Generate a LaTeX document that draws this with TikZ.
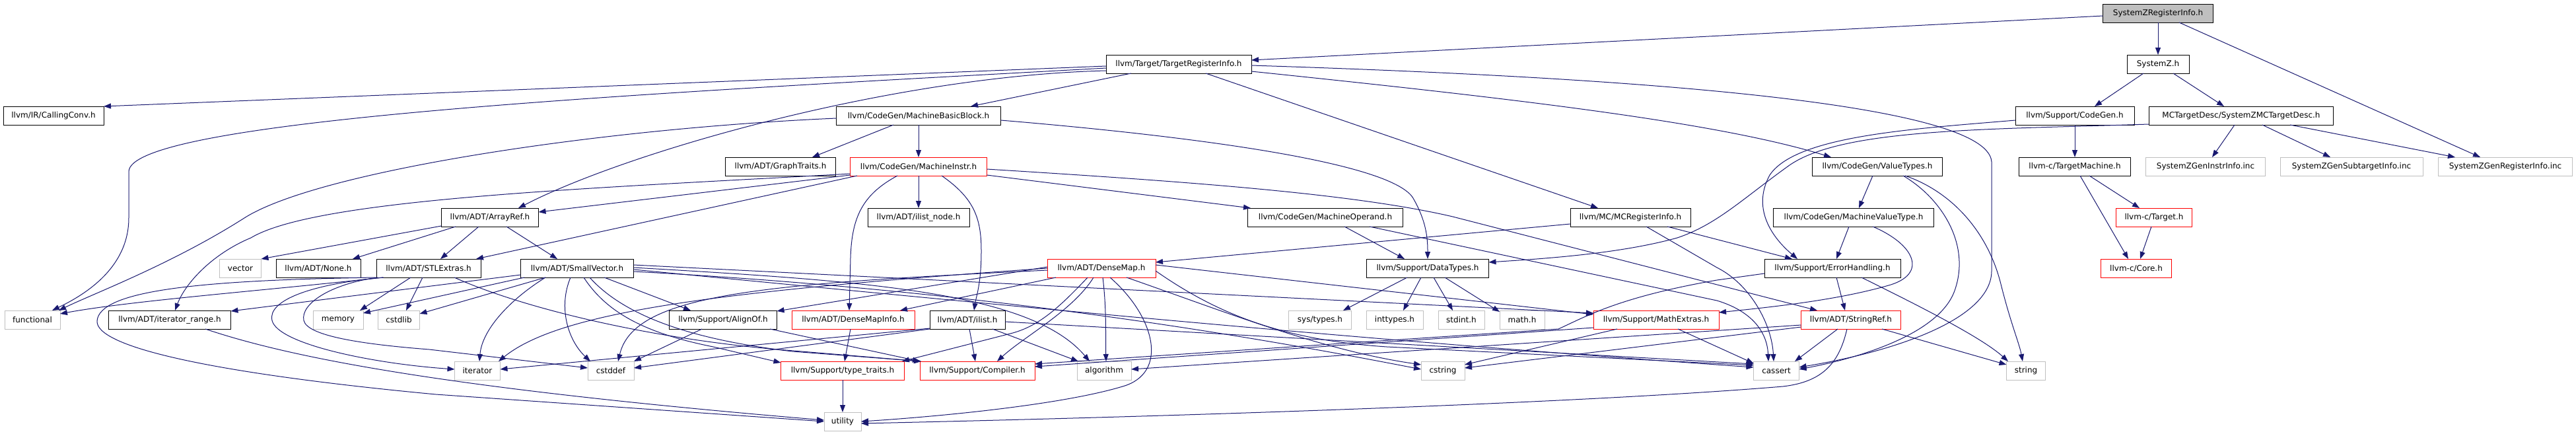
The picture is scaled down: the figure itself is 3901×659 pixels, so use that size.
\documentclass[tikz,border=0pt]{standalone}
\usepackage{fontspec}
\setmainfont{DejaVu Sans}
\usetikzlibrary{arrows.meta,calc}
\definecolor{edgeblue}{HTML}{191970}
\definecolor{graybd}{HTML}{BFBFBF}
\definecolor{rootfill}{HTML}{BFBFBF}
\definecolor{nodered}{HTML}{FF0000}
\begin{document}
\begin{tikzpicture}[x=1pt,y=-1pt,
  box/.style={draw=black, line width=1pt, minimum height=28pt, inner sep=0pt, outer sep=0pt, font=\fontsize{12}{14}\selectfont, anchor=center},
  nb/.style={box, minimum width=#1},
  nr/.style={nb=#1, draw=nodered},
  ng/.style={nb=#1, draw=graybd},
  root/.style={nb=#1, fill=rootfill},
  dep/.style={draw=edgeblue, line width=1pt, -{Triangle[length=11pt,width=8pt]}}]
\useasboundingbox (0,0) rectangle (3901,659);
% nodes
\node[root=167] (szri) at (3268,20) {SystemZRegisterInfo.h};
\node[nb=220] (tri) at (1785,97) {llvm/Target/TargetRegisterInfo.h};
\node[nb=94] (szh) at (3268,97) {SystemZ.h};
\node[nb=152] (cc) at (81,175) {llvm/IR/CallingConv.h};
\node[nb=249] (mbb) at (1391,175) {llvm/CodeGen/MachineBasicBlock.h};
\node[nb=180] (cg) at (3142,175) {llvm/Support/CodeGen.h};
\node[nb=279] (mctd) at (3394,175) {MCTargetDesc/SystemZMCTargetDesc.h};
\node[nb=167] (gt) at (1182,252) {llvm/ADT/GraphTraits.h};
\node[nr=207] (mi) at (1391,252) {llvm/CodeGen/MachineInstr.h};
\node[nb=197] (vt) at (2843,252) {llvm/CodeGen/ValueTypes.h};
\node[nb=169] (tm) at (3142,252) {llvm-c/TargetMachine.h};
\node[ng=181] (gii) at (3340,252) {SystemZGenInstrInfo.inc};
\node[ng=216] (gsi) at (3561,252) {SystemZGenSubtargetInfo.inc};
\node[ng=203] (gri) at (3794,252) {SystemZGenRegisterInfo.inc};
\node[nb=147] (ar) at (742,329) {llvm/ADT/ArrayRef.h};
\node[nb=154] (iln) at (1391,329) {llvm/ADT/ilist\_node.h};
\node[nb=235] (mo) at (2007,329) {llvm/CodeGen/MachineOperand.h};
\node[nb=182] (mcri) at (2469,329) {llvm/MC/MCRegisterInfo.h};
\node[nb=243] (mvt) at (2807,329) {llvm/CodeGen/MachineValueType.h};
\node[nr=115] (tg) at (3262,329) {llvm-c/Target.h};
\node[ng=63] (vec) at (364,406) {vector};
\node[nb=128] (none) at (482,406) {llvm/ADT/None.h};
\node[nb=158] (stl) at (649,406) {llvm/ADT/STLExtras.h};
\node[nb=171] (sv) at (874,406) {llvm/ADT/SmallVector.h};
\node[nr=164] (dm) at (1668,406) {llvm/ADT/DenseMap.h};
\node[nb=185] (dt) at (2162,406) {llvm/Support/DataTypes.h};
\node[nb=206] (eh) at (2775,406) {llvm/Support/ErrorHandling.h};
\node[nr=107] (core) at (3235,406) {llvm-c/Core.h};
\node[ng=84] (fun) at (49,484) {functional};
\node[nb=185] (itr) at (257,484) {llvm/ADT/iterator\_range.h};
\node[ng=76] (mem) at (512,484) {memory};
\node[ng=63] (cstdlib) at (604,484) {cstdlib};
\node[nb=163] (aof) at (1095,484) {llvm/Support/AlignOf.h};
\node[nr=186] (dmi) at (1292,484) {llvm/ADT/DenseMapInfo.h};
\node[nb=114] (il) at (1465,484) {llvm/ADT/ilist.h};
\node[ng=95] (syst) at (1999,484) {sys/types.h};
\node[ng=86] (intt) at (2112,484) {inttypes.h};
\node[ng=70] (stdi) at (2213,484) {stdint.h};
\node[ng=68] (mathh) at (2305,484) {math.h};
\node[nr=190] (me) at (2508,484) {llvm/Support/MathExtras.h};
\node[nr=151] (sr) at (2803,484) {llvm/ADT/StringRef.h};
\node[ng=69] (iter) at (723,561) {iterator};
\node[ng=70] (cstddef) at (925,561) {cstddef};
\node[nr=187] (tt) at (1276,561) {llvm/Support/type\_traits.h};
\node[nr=174] (comp) at (1480,561) {llvm/Support/Compiler.h};
\node[ng=82] (alg) at (1672,561) {algorithm};
\node[ng=66] (cstr) at (2185,561) {cstring};
\node[ng=69] (cass) at (2690,561) {cassert};
\node[ng=59] (str) at (3068,561) {string};
\node[ng=56] (util) at (1276,638) {utility};
% edges: top part
\draw[dep] ($(szri)+(0,14)$) -- ($(szh)+(0,-14)$);
\draw[dep] ($(szri)+(-83.5,4)$) -- ($(tri)+(110,-6)$);
\draw[dep] ($(szri)+(32,14)$) -- ($(gri)+(-38,-14)$);
\draw[dep] ($(szh)+(-22,14)$) -- ($(cg)+(30,-14)$);
\draw[dep] ($(szh)+(23,14)$) -- ($(mctd)+(-26,-14)$);
\draw[dep] ($(mctd)+(-10,14)$) -- ($(gii)+(10,-14)$);
\draw[dep] ($(mctd)+(32,14)$) -- ($(gsi)+(-32,-14)$);
\draw[dep] ($(mctd)+(74,14)$) -- ($(gri)+(-76,-14)$);
\draw[dep] ($(mctd)+(-139.5,13)$) .. controls (3000,196) and (2790,195) .. (2710,250) .. controls (2640,300) and (2600,340) .. (2540,360) .. controls (2450,385) and (2330,392) .. ($(dt)+(92.5,-9)$);
\draw[dep] ($(cg)+(-90,7)$) .. controls (2900,195) and (2720,205) .. (2680,265) .. controls (2650,320) and (2690,365) .. ($(eh)+(-53,-14)$);
\draw[dep] ($(cg)+(0,14)$) -- ($(tm)+(0,-14)$);
\draw[dep] ($(tm)+(22,14)$) -- ($(tg)+(-22,-14)$);
\draw[dep] ($(tm)+(8,14)$) -- ($(core)+(-12,-14)$);
\draw[dep] ($(tg)+(-4,14)$) -- ($(core)+(6,-14)$);
% TargetRegisterInfo
\draw[dep] ($(tri)+(-110,3)$) -- ($(cc)+(76,-14)$);
\draw[dep] ($(tri)+(-110,6)$) .. controls (1000,140) and (195,180) .. (195,260) -- (195,330) .. controls (195,410) and (120,450) .. ($(fun)+(30,-14)$);
\draw[dep] ($(tri)+(-72,14)$) -- ($(mbb)+(79,-14)$);
\draw[dep] ($(tri)+(-110,10)$) .. controls (1350,115) and (950,230) .. ($(ar)+(43,-14)$);
\draw[dep] ($(tri)+(110,11)$) .. controls (2300,150) and (2600,185) .. ($(vt)+(-70,-14)$);
\draw[dep] ($(tri)+(41,14)$) -- ($(mcri)+(-49,-14)$);
\draw[dep] ($(tri)+(110,2)$) .. controls (2400,115) and (3010,150) .. (3016,245) -- (3016,410) .. controls (3016,480) and (2880,530) .. ($(cass)+(34.5,-5)$);
% MachineBasicBlock
\draw[dep] ($(mbb)+(-38,14)$) -- ($(gt)+(48,-14)$);
\draw[dep] ($(mbb)+(0,14)$) -- ($(mi)+(0,-14)$);
\draw[dep] ($(mbb)+(124.5,7)$) .. controls (1850,210) and (2110,250) .. (2140,300) .. controls (2160,335) and (2162,360) .. ($(dt)+(0,-14)$);
\draw[dep] ($(mbb)+(-124.5,4)$) .. controls (900,195) and (480,260) .. (370,330) .. controls (260,400) and (140,445) .. ($(fun)+(40,-14)$);
% MachineInstr
\draw[dep] ($(mi)+(-103.5,13)$) -- ($(ar)+(73.5,-8)$);
\draw[dep] ($(mi)+(-93,14)$) -- ($(stl)+(72,-14)$);
\draw[dep] ($(mi)+(-103.5,11)$) .. controls (900,285) and (480,300) .. (380,360) .. controls (320,385) and (280,430) .. ($(itr)+(8,-14)$);
\draw[dep] ($(mi)+(-32,14)$) .. controls (1305,295) and (1290,330) .. (1288,390) -- ($(dmi)+(-6,-14)$);
\draw[dep] ($(mi)+(0,14)$) -- ($(iln)+(0,-14)$);
\draw[dep] ($(mi)+(35,14)$) .. controls (1475,300) and (1486,330) .. (1486,380) .. controls (1486,430) and (1478,450) .. ($(il)+(10,-14)$);
\draw[dep] ($(mi)+(103.5,13)$) -- ($(mo)+(-113,-14)$);
\draw[dep] ($(mi)+(103.5,4)$) .. controls (1800,275) and (2050,293) .. (2200,328) -- ($(sr)+(-51,-14)$);
% ArrayRef
\draw[dep] ($(ar)+(-73.5,13)$) -- ($(vec)+(31.5,-14)$);
\draw[dep] ($(ar)+(-52,14)$) -- ($(none)+(52,-14)$);
\draw[dep] ($(ar)+(-17,14)$) -- ($(stl)+(18,-14)$);
\draw[dep] ($(ar)+(25,14)$) -- ($(sv)+(-30,-14)$);
% STLExtras
\draw[dep] ($(stl)+(-69,14)$) .. controls (400,440) and (200,455) .. ($(fun)+(42,-9)$);
\draw[dep] ($(stl)+(-27,14)$) -- ($(mem)+(33,-14)$);
\draw[dep] ($(stl)+(-9,14)$) -- ($(cstdlib)+(11,-14)$);
\draw[dep] ($(stl)+(-68,14)$) .. controls (470,430) and (405,455) .. (412,485) .. controls (420,520) and (560,550) .. ($(iter)+(-34.5,-2)$);
\draw[dep] ($(stl)+(-77,14)$) .. controls (500,430) and (455,460) .. (460,485) .. controls (465,510) and (560,522) .. (650,529) -- ($(cstddef)+(-35,-4)$);
\draw[dep] ($(stl)+(-79,14)$) .. controls (300,424) and (150,440) .. (147,486) .. controls (145,525) and (320,565) .. (660,597) -- ($(util)+(-28,0)$);
\draw[dep] ($(stl)+(39,14)$) .. controls (800,470) and (1000,515) .. (1190,530) -- ($(comp)+(-85,-14)$);
% SmallVector
\draw[dep] ($(sv)+(-85.5,10)$) -- ($(itr)+(92.5,-13)$);
\draw[dep] ($(sv)+(-80,14)$) -- ($(mem)+(38,-10)$);
\draw[dep] ($(sv)+(-48,14)$) -- ($(cstdlib)+(31.5,-9)$);
\draw[dep] ($(sv)+(-48,14)$) .. controls (770,455) and (730,500) .. ($(iter)+(3,-14)$);
\draw[dep] ($(sv)+(-10,14)$) .. controls (845,465) and (860,515) .. ($(cstddef)+(-31,-14)$);
\draw[dep] ($(sv)+(41,14)$) -- ($(aof)+(-49,-14)$);
\draw[dep] ($(sv)+(10,14)$) .. controls (920,475) and (980,505) .. (1080,525) -- ($(tt)+(-93.5,-12)$);
\draw[dep] ($(sv)+(19,14)$) .. controls (960,495) and (1100,520) .. (1200,532) -- ($(comp)+(-85,-14)$);
\draw[dep] ($(sv)+(85.5,-5)$) -- ($(me)+(-95,-10)$);
\draw[dep] ($(sv)+(85.5,-1)$) .. controls (1300,425) and (1560,440) .. ($(alg)+(-22,-14)$);
\draw[dep] ($(sv)+(85.5,2)$) .. controls (1500,460) and (2000,510) .. ($(cass)+(-34.5,-5)$);
\draw[dep] ($(sv)+(85.5,5)$) .. controls (1500,440) and (1900,510) .. ($(cstr)+(-33,-2)$);
% AlignOf, DenseMapInfo, ilist, type_traits, iterator_range
\draw[dep] ($(aof)+(-32,14)$) -- ($(cstddef)+(35,-14)$);
\draw[dep] ($(aof)+(71,14)$) -- ($(comp)+(-87,-14)$);
\draw[dep] ($(dmi)+(-4,14)$) -- ($(tt)+(3,-14)$);
\draw[dep] ($(il)+(3,14)$) -- ($(comp)+(-3,-14)$);
\draw[dep] ($(il)+(38,14)$) -- ($(alg)+(-39,-14)$);
\draw[dep] ($(il)+(57,3)$) -- ($(cass)+(-34.5,-10)$);
\draw[dep] ($(il)+(-57,13)$) -- ($(iter)+(34.5,-2)$);
\draw[dep] ($(il)+(-57,14)$) -- ($(cstddef)+(35,-4)$);
\draw[dep] ($(tt)+(0,14)$) -- ($(util)+(0,-14)$);
\draw[dep] ($(itr)+(54,14)$) .. controls (450,545) and (700,590) .. ($(util)+(-28,-2)$);
% DenseMap
\draw[dep] ($(dm)+(-69,14)$) -- ($(dmi)+(71,-14)$);
\draw[dep] ($(dm)+(-82,-2)$) -- ($(aof)+(81.5,-13)$);
\draw[dep] ($(dm)+(-12,14)$) .. controls (1625,470) and (1550,510) .. ($(comp)+(30,-14)$);
\draw[dep] ($(dm)+(2,14)$) .. controls (1676,470) and (1674,510) .. ($(alg)+(3,-14)$);
\draw[dep] ($(dm)+(13,14)$) .. controls (1750,480) and (1770,565) .. (1700,585) .. controls (1600,615) and (1400,632) .. ($(util)+(28,0)$);
\draw[dep] ($(dm)+(-21,14)$) .. controls (1600,470) and (1570,495) .. (1530,505) -- ($(tt)+(90,-14)$);
\draw[dep] ($(dm)+(82,-5)$) -- ($(me)+(-95,-8)$);
\draw[dep] ($(dm)+(38,14)$) .. controls (1850,470) and (2000,530) .. ($(cstr)+(-33,-9)$);
\draw[dep] ($(dm)+(82,4)$) .. controls (1850,480) and (1950,515) .. (2100,525) -- ($(cass)+(-34.5,-8)$);
\draw[dep] ($(dm)+(-82,0)$) .. controls (1100,440) and (850,470) .. ($(iter)+(32,-14)$);
\draw[dep] ($(dm)+(-82,3)$) .. controls (1150,430) and (960,445) .. ($(cstddef)+(11,-14)$);
% DataTypes, MachineOperand, MCRegisterInfo
\draw[dep] ($(dt)+(-31,14)$) -- ($(syst)+(35,-14)$);
\draw[dep] ($(dt)+(-10,14)$) -- ($(intt)+(13,-14)$);
\draw[dep] ($(dt)+(9,14)$) -- ($(stdi)+(-13,-14)$);
\draw[dep] ($(dt)+(26,14)$) -- ($(mathh)+(-34,-12)$);
\draw[dep] ($(mo)+(29,14)$) -- ($(dt)+(-35,-14)$);
\draw[dep] ($(mo)+(67,14)$) -- (2600,455) .. controls (2650,470) and (2676,500) .. ($(cass)+(-12,-14)$);
\draw[dep] ($(mcri)+(-91,10)$) -- ($(dm)+(82,-9)$);
\draw[dep] ($(mcri)+(56,14)$) -- ($(eh)+(-61,-14)$);
\draw[dep] ($(mcri)+(24,14)$) -- (2600,405) .. controls (2650,430) and (2683,490) .. ($(cass)+(-4,-14)$);
% ValueTypes, MachineValueType
\draw[dep] ($(vt)+(-7,14)$) -- ($(mvt)+(8,-14)$);
\draw[dep] ($(vt)+(39,14)$) .. controls (2940,300) and (2985,370) .. (2960,440) .. controls (2935,510) and (2800,545) .. ($(cass)+(34.5,-2)$);
\draw[dep] ($(vt)+(42,14)$) .. controls (2955,290) and (3010,350) .. (3030,430) .. controls (3045,490) and (3058,520) .. ($(str)+(-5,-14)$);
\draw[dep] ($(mvt)+(-7,14)$) -- ($(eh)+(6,-14)$);
\draw[dep] ($(mvt)+(29,14)$) .. controls (2900,370) and (2920,415) .. (2860,432) .. controls (2780,455) and (2680,465) .. ($(me)+(95,-11)$);
% ErrorHandling, StringRef, MathExtras
\draw[dep] ($(eh)+(6,14)$) -- ($(sr)+(-9,-14)$);
\draw[dep] ($(eh)+(-103,8)$) -- (2600,424) .. controls (2450,450) and (2400,480) .. (2360,498) -- ($(comp)+(87,-10)$);
\draw[dep] ($(eh)+(44,14)$) .. controls (2900,460) and (3000,510) .. ($(str)+(-27,-14)$);
\draw[dep] ($(sr)+(-75.5,8)$) -- ($(alg)+(41,-2)$);
\draw[dep] ($(sr)+(-75.5,11)$) -- ($(cstr)+(33,-4)$);
\draw[dep] ($(sr)+(-20,14)$) -- ($(cass)+(28,-14)$);
\draw[dep] ($(sr)+(47,14)$) -- ($(str)+(-29.5,-9)$);
\draw[dep] ($(sr)+(-6,14)$) .. controls (2785,550) and (2760,578) .. (2700,585) .. controls (2400,610) and (1800,630) .. ($(util)+(28,3)$);
\draw[dep] ($(me)+(-95,12)$) -- ($(comp)+(87,-6)$);
\draw[dep] ($(me)+(-59,14)$) -- ($(cstr)+(33,-9)$);
\draw[dep] ($(me)+(33,14)$) -- ($(cass)+(-34.5,-11)$);
\end{tikzpicture}
\end{document}
